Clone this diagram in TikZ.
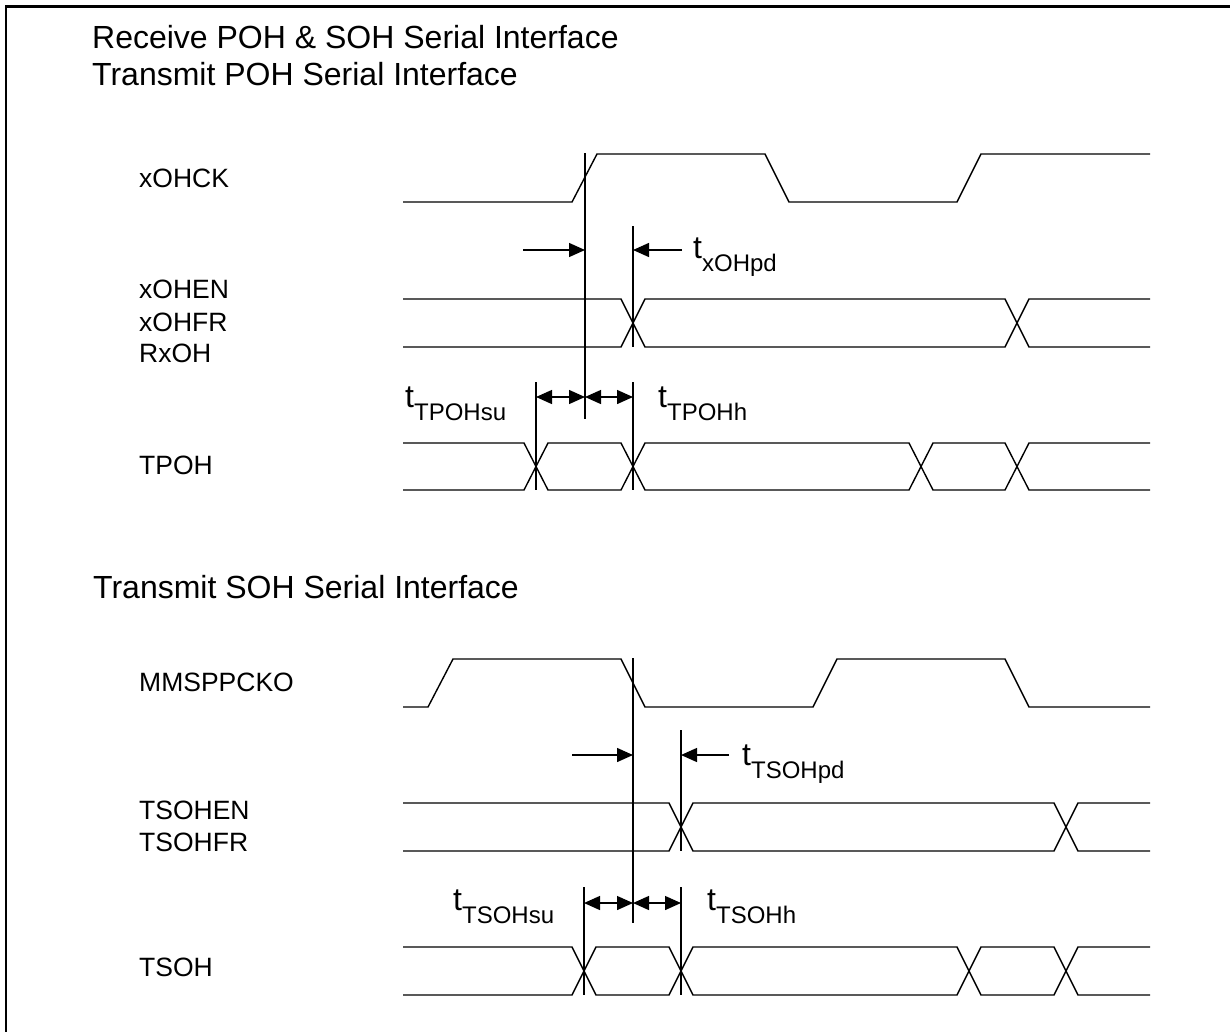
\documentclass[tikz,border=0pt]{standalone}
\usepackage{fontspec}
\setmainfont{Liberation Sans}
\usetikzlibrary{arrows.meta}

\newcommand{\tsub}[1]{t\raisebox{-13pt}{\fontsize{24}{24}\selectfont #1}}

\begin{document}
\begin{tikzpicture}[x=1pt, y=-1pt,
    wave/.style={line width=1.4pt, line join=miter},
    tick/.style={line width=1.4pt},
    arr/.style={line width=1.4pt, -{Triangle[length=16pt, width=14pt]}},
    darr/.style={line width=1.4pt, {Triangle[length=16pt, width=14pt]}-{Triangle[length=16pt, width=14pt]}},
    title/.style={anchor=base west, inner sep=0pt, font=\fontsize{32}{36}\selectfont},
    sig/.style={anchor=base west, inner sep=0pt, font=\fontsize{26.5}{30}\selectfont},
    tim/.style={anchor=base west, inner sep=0pt, font=\fontsize{32}{36}\selectfont}
]
\useasboundingbox (0,0) rectangle (1230,1031);
\clip (0,0) rectangle (1230,1031);
\draw[line width=2.6pt] (6,6.5) rectangle (1300,1100);

% titles
\node[title] (t1) at (92,48) {Receive POH \& SOH Serial Interface};
\node[title] (t2) at (92,85) {Transmit POH Serial Interface};
\node[title] (t3) at (93,598) {Transmit SOH Serial Interface};

% signal names
\node[sig] (lck) at (139,187) {xOHCK};
\node[sig] (len) at (139,298) {xOHEN};
\node[sig] (lfr) at (139,331) {xOHFR};
\node[sig] (lrx) at (139,362) {RxOH};
\node[sig] (ltp) at (139,474) {TPOH};
\node[sig] (lmm) at (139,691) {MMSPPCKO};
\node[sig] (lsen) at (139,819) {TSOHEN};
\node[sig] (lsfr) at (139,851) {TSOHFR};
\node[sig] (lts) at (139,976) {TSOH};

% upper waveforms
\draw[wave] (403,202) -- (572,202) -- (597,154) -- (765,154) -- (789,202) -- (957,202) -- (981,154) -- (1150,154);
\draw[wave] (403,299) -- (621,299) -- (645,347) -- (1005,347) -- (1029,299) -- (1150,299);
\draw[wave] (403,347) -- (621,347) -- (645,299) -- (1005,299) -- (1029,347) -- (1150,347);
\draw[wave] (403,443) -- (524,443) -- (548,490) -- (621,490) -- (645,443) -- (909,443) -- (933,490) -- (1005,490) -- (1029,443) -- (1150,443);
\draw[wave] (403,490) -- (524,490) -- (548,443) -- (621,443) -- (645,490) -- (909,490) -- (933,443) -- (1005,443) -- (1029,490) -- (1150,490);

% upper timing marks
\coordinate (ckT) at (585,153);
\coordinate (ckB) at (585,419);
\coordinate (pdT) at (633,226);
\coordinate (pdB) at (633,347);
\coordinate (hT) at (633,382);
\coordinate (hB) at (633,490);
\coordinate (suT) at (536,382);
\coordinate (suB) at (536,490);
\draw[tick] (ckT) -- (ckB);
\draw[tick] (pdT) -- (pdB);
\draw[tick] (hT) -- (hB);
\draw[tick] (suT) -- (suB);
\coordinate (pdL) at (523,250);
\coordinate (pdR) at (682,250);
\draw[arr] (pdL) -- (pdL -| ckT);
\draw[arr] (pdR) -- (pdR -| pdT);
\coordinate (dA) at (536,397);
\draw[darr] (dA) -- (dA -| ckT);
\draw[darr] (dA -| ckT) -- (dA -| hT);
\node[tim] (txpd) at (693,258) {\tsub{xOHpd}};
\node[tim] (ttsu) at (405,407) {\tsub{TPOHsu}};
\node[tim] (tth) at (658,407) {\tsub{TPOHh}};

% lower waveforms
\draw[wave] (403,707) -- (428,707) -- (453,659) -- (621,659) -- (645,707) -- (813,707) -- (837,659) -- (1005,659) -- (1029,707) -- (1150,707);
\draw[wave] (403,803) -- (669,803) -- (693,851) -- (1054,851) -- (1078,803) -- (1150,803);
\draw[wave] (403,851) -- (669,851) -- (693,803) -- (1054,803) -- (1078,851) -- (1150,851);
\draw[wave] (403,947) -- (572,947) -- (596,995) -- (669,995) -- (693,947) -- (957,947) -- (981,995) -- (1054,995) -- (1078,947) -- (1150,947);
\draw[wave] (403,995) -- (572,995) -- (596,947) -- (669,947) -- (693,995) -- (957,995) -- (981,947) -- (1054,947) -- (1078,995) -- (1150,995);

% lower timing marks
\coordinate (mkT) at (633,658);
\coordinate (mkB) at (633,923);
\coordinate (spdT) at (681,730);
\coordinate (spdB) at (681,851);
\coordinate (shT) at (681,887);
\coordinate (shB) at (681,995);
\coordinate (ssuT) at (584,887);
\coordinate (ssuB) at (584,995);
\draw[tick] (mkT) -- (mkB);
\draw[tick] (spdT) -- (spdB);
\draw[tick] (shT) -- (shB);
\draw[tick] (ssuT) -- (ssuB);
\coordinate (spdL) at (572,755);
\coordinate (spdR) at (729,755);
\draw[arr] (spdL) -- (spdL -| mkT);
\draw[arr] (spdR) -- (spdR -| spdT);
\coordinate (dB) at (584,903);
\draw[darr] (dB) -- (dB -| mkT);
\draw[darr] (dB -| mkT) -- (dB -| shT);
\node[tim] (tspd) at (742,765) {\tsub{TSOHpd}};
\node[tim] (tssu) at (453,910) {\tsub{TSOHsu}};
\node[tim] (tsh) at (707,910) {\tsub{TSOHh}};
\end{tikzpicture}
\end{document}
